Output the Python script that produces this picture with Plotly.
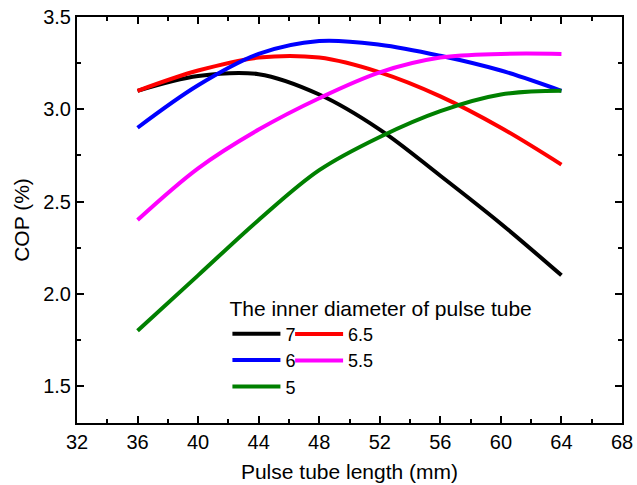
import plotly.graph_objects as go

length_mm = [36, 40, 44, 48, 52, 56, 60, 64]
cop_d7 = [3.10, 3.18, 3.19, 3.08, 2.89, 2.64, 2.38, 2.10]
cop_d65 = [3.10, 3.21, 3.28, 3.28, 3.20, 3.07, 2.90, 2.70]
cop_d6 = [2.90, 3.13, 3.30, 3.37, 3.35, 3.29, 3.21, 3.10]
cop_d55 = [2.40, 2.68, 2.89, 3.06, 3.20, 3.28, 3.30, 3.30]
cop_d5 = [1.80, 2.10, 2.40, 2.67, 2.85, 2.99, 3.08, 3.10]

series_names = ["7", "6.5", "6", "5.5", "5"]
series_values = [cop_d7, cop_d65, cop_d6, cop_d55, cop_d5]
series_colors = ["#000000", "#FF0000", "#0000FF", "#FF00FF", "#008000"]
series_legend = ["legend", "legend2", "legend", "legend2", "legend"]

x_ticks = [32, 36, 40, 44, 48, 52, 56, 60, 64, 68]
y_ticks = [1.5, 2.0, 2.5, 3.0, 3.5]

FONT = "Liberation Sans, Arial, sans-serif"

fig = go.Figure()
for name, vals, col, lg in zip(series_names, series_values, series_colors, series_legend):
    fig.add_trace(go.Scatter(
        x=length_mm, y=vals, name=name, mode="lines",
        line=dict(color=col, width=4, shape="spline", smoothing=1.0),
        legend=lg,
    ))

fig.update_layout(
    width=637, height=485,
    margin=dict(l=77, r=15, t=17, b=62),
    paper_bgcolor="white", plot_bgcolor="white",
    font=dict(family=FONT, size=18, color="black"),
    showlegend=True,
    legend=dict(
        x=0.276, y=0.332, xanchor="left", yanchor="top",
        bgcolor="rgba(0,0,0,0)", borderwidth=0,
        font=dict(size=18), itemwidth=48, tracegroupgap=0,
        title=dict(text="The inner diameter of pulse tube", font=dict(size=21)),
    ),
    legend2=dict(
        x=0.391, y=0.264, xanchor="left", yanchor="top",
        bgcolor="rgba(0,0,0,0)", borderwidth=0,
        font=dict(size=18), itemwidth=48, tracegroupgap=0,
    ),
)

fig.update_xaxes(
    range=[32, 68], tickvals=x_ticks, ticktext=[str(v) for v in x_ticks],
    ticks="inside", ticklen=7, tickwidth=1.5, tickcolor="black",
    minor=dict(dtick=2, ticks="inside", ticklen=4, tickwidth=1.5, tickcolor="black"),
    showline=True, linewidth=2, linecolor="black", mirror="ticks",
    showgrid=False, zeroline=False, automargin=False,
    tickfont=dict(size=20),
    title=dict(text="Pulse tube length (mm)", font=dict(size=21), standoff=12),
)
fig.update_yaxes(
    range=[1.3, 3.5], tickvals=y_ticks, tickformat=".1f",
    ticks="inside", ticklen=7, tickwidth=1.5, tickcolor="black",
    minor=dict(dtick=0.25, tick0=1.5, ticks="inside", ticklen=4, tickwidth=1.5, tickcolor="black"),
    showline=True, linewidth=2, linecolor="black", mirror="ticks",
    showgrid=False, zeroline=False, automargin=False,
    tickfont=dict(size=20),
    title=dict(text="COP (%)", font=dict(size=21), standoff=8),
)

fig.write_html(
    "out.html",
    config={"displayModeBar": False},
    post_script="document.body.style.margin='0';document.body.style.overflow='hidden';",
)
